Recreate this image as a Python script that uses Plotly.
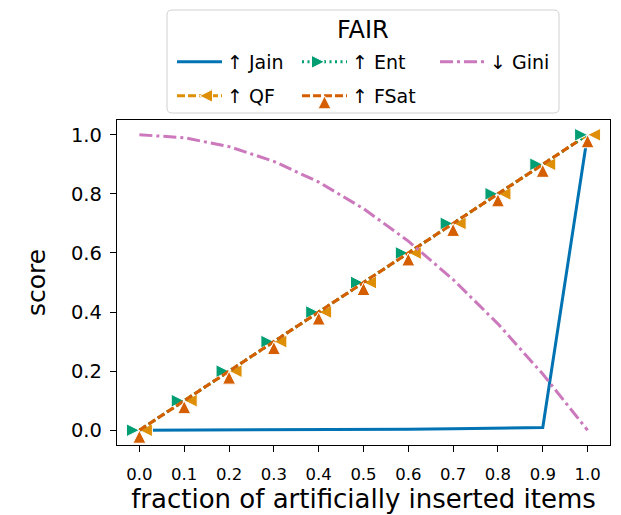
import plotly.graph_objects as go

# fraction of artificially inserted items
fraction = [0.0, 0.1, 0.2, 0.3, 0.4, 0.5, 0.6, 0.7, 0.8, 0.9, 1.0]

# fairness scores per metric
jain = [0.0, 0.0003, 0.0007, 0.0012, 0.0018, 0.0025, 0.0035, 0.0048, 0.0065, 0.009, 1.0]
qf = [0.0, 0.1, 0.2, 0.3, 0.4, 0.5, 0.6, 0.7, 0.8, 0.9, 1.0]
ent = [0.0, 0.1, 0.2, 0.3, 0.4, 0.5, 0.6, 0.7, 0.8, 0.9, 1.0]
fsat = [0.0, 0.1, 0.2, 0.3, 0.4, 0.5, 0.6, 0.7, 0.8, 0.9, 1.0]
gini = [1.0, 0.99, 0.96, 0.91, 0.84, 0.75, 0.64, 0.51, 0.36, 0.19, 0.0]

x_ticks = [0.0, 0.1, 0.2, 0.3, 0.4, 0.5, 0.6, 0.7, 0.8, 0.9, 1.0]
y_ticks = [0.0, 0.2, 0.4, 0.6, 0.8, 1.0]

FONT = "DejaVu Sans"
TXT = "#000000"
W, H = 621, 515
ML, MR, MT, MB = 117, 11, 120, 70
PW, PH = W - ML - MR, H - MT - MB


def px_x(p):
    return (p - ML) / PW


def px_y(p):
    return (H - MB - p) / PH


fig = go.Figure()

series = [
    dict(name="↑ Jain", y=jain, color="#0173B2", dash="solid", symbol=None, legend="legend"),
    dict(name="↑ QF", y=qf, color="#DE8F05", dash="8px,3px", symbol="arrow-left", legend="legend4"),
    dict(name="↑ Ent", y=ent, color="#029E73", dash="2px,3.5px", symbol="arrow-right", legend="legend2"),
    dict(name="↑ FSat", y=fsat, color="#D55E00", dash="8px,3px", symbol="arrow-up", legend="legend5"),
    dict(name="↓ Gini", y=gini, color="#CC78BC", dash="13px,4px,3px,4px", symbol=None, legend="legend3"),
]

for s in series:
    kw = dict(
        x=fraction, y=s["y"], name=s["name"], legend=s["legend"], showlegend=True,
        line=dict(color=s["color"], width=3, dash=s["dash"]),
    )
    if s["symbol"]:
        kw["mode"] = "lines+markers"
        kw["marker"] = dict(symbol=s["symbol"], size=13, color=s["color"],
                            line=dict(color="white", width=1))
    else:
        kw["mode"] = "lines"
    fig.add_trace(go.Scatter(**kw))

# legend frame with rounded corners
x0, x1 = px_x(167), px_x(559)
y0, y1 = px_y(113), px_y(10)
rx, ry = 5 / PW, 5 / PH
path = (f"M {x0 + rx},{y0} L {x1 - rx},{y0} Q {x1},{y0} {x1},{y0 + ry} "
        f"L {x1},{y1 - ry} Q {x1},{y1} {x1 - rx},{y1} L {x0 + rx},{y1} "
        f"Q {x0},{y1} {x0},{y1 - ry} L {x0},{y0 + ry} Q {x0},{y0} {x0 + rx},{y0} Z")
fig.add_shape(type="path", path=path, xref="paper", yref="paper",
              line=dict(color="#d0d0d0", width=1), fillcolor="rgba(255,255,255,0.8)",
              layer="above")

fig.add_annotation(text="FAIR", x=px_x(363), y=px_y(30), xref="paper", yref="paper",
                   showarrow=False, font=dict(family=FONT, size=24, color=TXT),
                   xanchor="center", yanchor="middle")

leg_common = dict(font=dict(family=FONT, size=19, color=TXT),
                  bgcolor="rgba(0,0,0,0)", borderwidth=0, xanchor="left",
                  yanchor="middle", orientation="h", itemwidth=45)
row1, row2 = px_y(62), px_y(96)
col1, col2, col3 = px_x(172), px_x(297), px_x(435)

axis_common = dict(
    showline=True, linecolor="black", linewidth=1.3, mirror=True,
    ticks="outside", ticklen=6, tickwidth=1.2, tickcolor="black",
    showgrid=False, zeroline=False, automargin=False,
)

fig.update_layout(
    width=W, height=H,
    margin=dict(l=ML, r=MR, t=MT, b=MB),
    paper_bgcolor="white", plot_bgcolor="white",
    font=dict(family=FONT, color=TXT),
    showlegend=True,
    legend=dict(x=col1, y=row1, **leg_common),
    legend2=dict(x=col2, y=row1, **leg_common),
    legend3=dict(x=col3, y=row1, **leg_common),
    legend4=dict(x=col1, y=row2, **leg_common),
    legend5=dict(x=col2, y=row2, **leg_common),
    xaxis=dict(range=[-0.05, 1.05], tickvals=x_ticks,
               ticktext=[f"{v:.1f}" for v in x_ticks],
               tickfont=dict(family=FONT, size=16.5, color=TXT),
               ticklabelstandoff=8,
               title=dict(text="fraction of artificially inserted items",
                          font=dict(family=FONT, size=26, color=TXT), standoff=6),
               **axis_common),
    yaxis=dict(range=[-0.05, 1.05], tickvals=y_ticks,
               ticktext=[f"{v:.1f}" for v in y_ticks],
               tickfont=dict(family=FONT, size=19.5, color=TXT),
               ticklabelstandoff=4,
               title=dict(text="score",
                          font=dict(family=FONT, size=25, color=TXT), standoff=18),
               **axis_common),
)

fig.write_html("out.html")
